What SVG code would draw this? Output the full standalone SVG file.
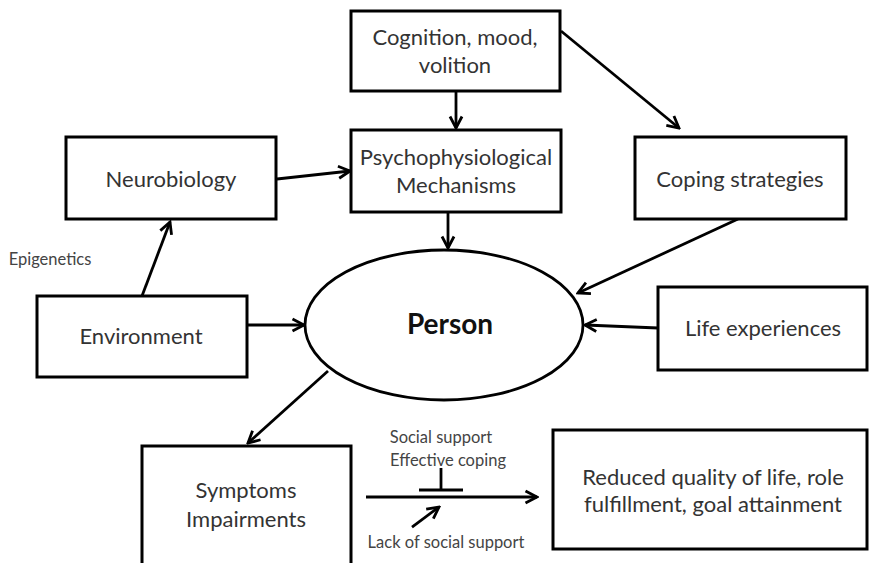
<svg xmlns="http://www.w3.org/2000/svg" width="870" height="563" viewBox="0 0 870 563">
<defs>
<marker id="arr" viewBox="0 0 16 16" refX="14" refY="8" markerWidth="16" markerHeight="16" markerUnits="userSpaceOnUse" orient="auto">
<path d="M2.5,2 L14,8 L2.5,14" fill="none" stroke="#000" stroke-width="2.8"/>
</marker>
<style>
.box{fill:#fff;stroke:#000;stroke-width:3}
.t{font-family:Lato,"Liberation Sans",sans-serif;font-size:22px;fill:#333;text-anchor:middle}
.s{font-family:Lato,"Liberation Sans",sans-serif;font-size:16.5px;fill:#444;text-anchor:middle}
.e{fill:none;stroke:#000;stroke-width:2.8}
</style>
</defs>
<rect width="870" height="563" fill="#fff"/>
<g id="connectors">
<line class="e" x1="456" y1="92" x2="456" y2="128" marker-end="url(#arr)"/>
<line class="e" x1="277" y1="179" x2="350" y2="171" marker-end="url(#arr)"/>
<line class="e" x1="561" y1="31" x2="679" y2="128" marker-end="url(#arr)"/>
<line class="e" x1="448" y1="213" x2="448" y2="248" marker-end="url(#arr)"/>
<line class="e" x1="142" y1="296" x2="170" y2="222" marker-end="url(#arr)"/>
<line class="e" x1="247" y1="325" x2="304" y2="325" marker-end="url(#arr)"/>
<line class="e" x1="738" y1="219" x2="578" y2="293" marker-end="url(#arr)"/>
<line class="e" x1="658" y1="328" x2="585" y2="325" marker-end="url(#arr)"/>
<line class="e" x1="328" y1="371" x2="248" y2="443" marker-end="url(#arr)"/>
<line class="e" x1="366" y1="497" x2="537" y2="497" marker-end="url(#arr)"/>
<line class="e" x1="419" y1="490" x2="463" y2="490"/>
<line class="e" x1="441" y1="468" x2="441" y2="490"/>
<line class="e" x1="412" y1="527" x2="439" y2="507" marker-end="url(#arr)"/>
</g>
<g id="cognition">
<rect class="box" x="351" y="11" width="209" height="80"/>
<text class="t" x="455" y="45">Cognition, mood,</text>
<text class="t" x="455" y="73">volition</text>
</g>
<g id="psych">
<rect class="box" x="351" y="130" width="210" height="82"/>
<text class="t" x="456" y="165">Psychophysiological</text>
<text class="t" x="456" y="193">Mechanisms</text>
</g>
<g id="neurobiology">
<rect class="box" x="66" y="137" width="210" height="82"/>
<text class="t" x="171" y="187">Neurobiology</text>
</g>
<g id="coping">
<rect class="box" x="635" y="137" width="211" height="82"/>
<text class="t" x="740" y="187">Coping strategies</text>
</g>
<g id="epigenetics">
<text class="s" x="50" y="265">Epigenetics</text>
</g>
<g id="environment">
<rect class="box" x="37" y="296" width="210" height="81"/>
<text class="t" x="141" y="344">Environment</text>
</g>
<g id="person">
<ellipse cx="444" cy="325" rx="139" ry="75" fill="#fff" stroke="#000" stroke-width="2.8"/>
<text x="450" y="334" style="font-family:Lato,'Liberation Sans',sans-serif;font-size:28px;font-weight:bold;fill:#111;text-anchor:middle">Person</text>
</g>
<g id="life">
<rect class="box" x="658" y="287" width="209" height="83"/>
<text class="t" x="763" y="336">Life experiences</text>
</g>
<g id="symptoms">
<rect class="box" x="142" y="446" width="209" height="130"/>
<text class="t" x="246" y="498">Symptoms</text>
<text class="t" x="246" y="527">Impairments</text>
</g>
<g id="labels">
<text class="s" x="441" y="443">Social support</text>
<text class="s" x="448" y="466">Effective coping</text>
<text class="s" x="446" y="548">Lack of social support</text>
</g>
<g id="reduced">
<rect class="box" x="553" y="430" width="314" height="119"/>
<text class="t" x="713" y="485">Reduced quality of life, role</text>
<text class="t" x="713" y="512">fulfillment, goal attainment</text>
</g>
</svg>
